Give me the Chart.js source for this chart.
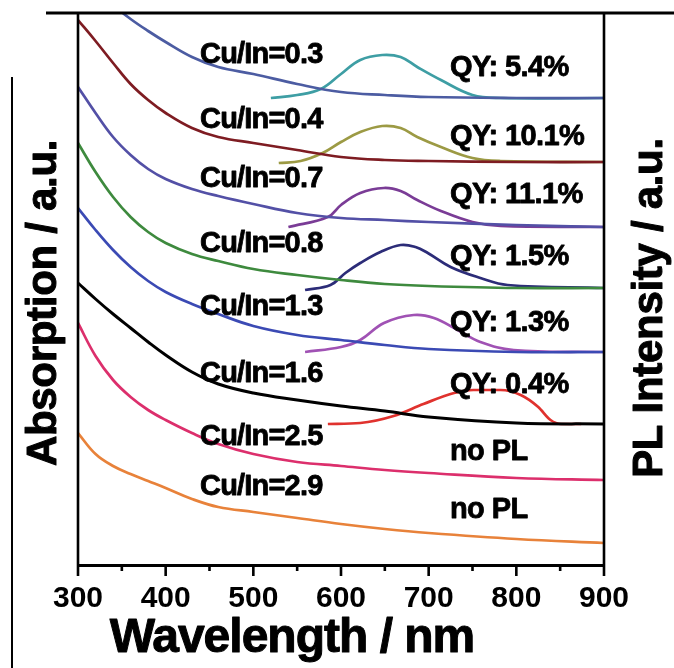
<!DOCTYPE html>
<html>
<head>
<meta charset="utf-8">
<script src="https://cdn.jsdelivr.net/npm/chart.js@4.4.0/dist/chart.umd.min.js"></script>
<style>
  html, body { margin: 0; padding: 0; background: #fff; }
  #wrap { width: 674px; height: 668px; position: relative; }
</style>
</head>
<body>
<div id="wrap"><canvas id="c" width="674" height="668"></canvas></div>
<script>
// Wavelength grid of the absorption spectra (nm)
const absWavelength = [300, 320, 340, 360, 380, 400, 430, 460, 500, 550, 600, 650, 700, 800, 900];

// Absorption spectra, stacked with a vertical offset (a.u.)
const absCu03 = [595, 577, 560, 546, 534, 523, 508, 498, 491, 481, 473, 470, 468, 467, 467];
const absCu04 = [545, 524, 502, 481, 465, 452, 437, 428, 422, 415, 408, 405, 404, 403, 403];
const absCu07 = [478, 452, 428, 410, 396, 386, 376, 369, 361, 352, 347, 345, 343, 340, 338];
const absCu08 = [422, 393, 368, 348, 333, 322, 311, 304, 296, 290, 285, 281, 279, 277, 277];
const absCu13 = [357, 335, 315, 298, 284, 273, 261, 251, 239, 230, 225, 220, 216, 213, 213];
const absCu16 = [282, 266, 251, 237, 223, 210, 193, 181, 172, 165, 159, 154, 148, 142, 141];
const absCu25 = [242, 209, 185, 168, 155, 145, 132, 121, 111, 103, 99, 95, 92, 87, 85];
const absCu29 = [132, 111, 99, 91, 84, 77, 66, 58, 53, 47, 41, 36, 32, 26, 22];

// PL spectra (nm / a.u., same offsets as the absorption traces)
const plCu03Wavelength = [520, 550, 577, 600, 622, 647, 668, 687, 714, 750, 782, 900];
const plCu03 = [467, 470, 476, 491, 505, 510, 508, 498, 485, 470, 467, 467];
const plCu04Wavelength = [529, 554, 579, 600, 622, 647, 668, 687, 714, 750, 782, 900];
const plCu04 = [402, 404, 412, 423, 433, 439, 437, 428, 418, 407, 404, 403];
const plCu07Wavelength = [540, 585, 600, 622, 649, 668, 687, 714, 750, 782, 900];
const plCu07 = [338, 348, 360, 372, 377, 374, 365, 354, 343, 339, 338];
const plCu08Wavelength = [559, 588, 605, 622, 645, 668, 685, 699, 725, 759, 790, 900];
const plCu08 = [275, 280, 292, 302, 313, 320, 318, 312, 298, 287, 280, 277];
const plCu13Wavelength = [559, 600, 622, 649, 683, 706, 733, 759, 797, 900];
const plCu13 = [213, 218, 225, 242, 250, 247, 235, 223, 215, 213];
const plCu16Wavelength = [585, 622, 660, 694, 729, 751, 782, 805, 825, 839, 851, 874];
const plCu16 = [141, 142, 149, 161, 172, 175, 175, 170, 158, 145, 141, 141];

// Sample names and quantum yields, top to bottom
const sampleLabels = ['Cu/In=0.3', 'Cu/In=0.4', 'Cu/In=0.7', 'Cu/In=0.8', 'Cu/In=1.3', 'Cu/In=1.6', 'Cu/In=2.5', 'Cu/In=2.9'];
const qyLabels = ['QY: 5.4%', 'QY: 10.1%', 'QY: 11.1%', 'QY: 1.5%', 'QY: 1.3%', 'QY: 0.4%', 'no PL', 'no PL'];

// Axis ticks (nm)
const majorTicks = [300, 400, 500, 600, 700, 800, 900];
const minorTicks = [350, 450, 550, 650, 750, 850];

const pts = (xs, ys) => xs.map((x, i) => ({ x: x, y: ys[i] }));

function series(xs, ys, color, width, monotone) {
  const ds = {
    data: pts(xs, ys),
    borderColor: color,
    borderWidth: width || 2.7,
    pointRadius: 0,
    fill: false,
    tension: 0.4,
    clip: 1
  };
  if (monotone) ds.cubicInterpolationMode = 'monotone';
  return ds;
}

const datasets = [
  series(absWavelength, absCu03, '#4c5ca2'),
  series(plCu03Wavelength, plCu03, '#3e9ea4'),
  series(absWavelength, absCu04, '#7e1c22'),
  series(plCu04Wavelength, plCu04, '#9c9a44'),
  series(absWavelength, absCu07, '#5350a6'),
  series(plCu07Wavelength, plCu07, '#7a3c96'),
  series(absWavelength, absCu08, '#3e8a3e'),
  series(plCu08Wavelength, plCu08, '#2c2c78'),
  series(absWavelength, absCu13, '#3b4ab4'),
  series(plCu13Wavelength, plCu13, '#a052b4'),
  series(absWavelength, absCu16, '#000000', 3),
  series(plCu16Wavelength, plCu16, '#e0322e', 2.7, true),
  series(absWavelength, absCu25, '#dc2f6c'),
  series(absWavelength, absCu29, '#e8823a')
];

const FONT = '"Liberation Sans", Arial, sans-serif';

// Layout of the annotation text (canvas pixels)
const textLayout = {
  sampleX: 200,
  sampleBaselines: [63, 128, 187, 252, 315, 382, 445, 495],
  qyX: 450,
  qyBaselines: [76, 145, 203, 265, 331, 393, 460, 518]
};

function putText(ctx, text, x, y, size, align, spacing, weight) {
  ctx.font = 'bold ' + size + 'px ' + FONT;
  ctx.textAlign = align;
  ctx.textBaseline = 'alphabetic';
  if ('letterSpacing' in ctx) ctx.letterSpacing = spacing || '0px';
  ctx.fillStyle = '#000';
  ctx.strokeStyle = '#000';
  ctx.lineJoin = 'round';
  ctx.lineWidth = weight || 0.8;
  ctx.fillText(text, x, y);
  ctx.strokeText(text, x, y);
  if ('letterSpacing' in ctx) ctx.letterSpacing = '0px';
}

const decor = {
  id: 'decor',
  afterDraw(chart) {
    const ctx = chart.ctx;
    const a = chart.chartArea;
    const xs = chart.scales.x;
    ctx.save();
    ctx.strokeStyle = '#000';
    ctx.lineCap = 'butt';

    // frame: top rule, left and right axes
    ctx.lineWidth = 3;
    ctx.beginPath();
    ctx.moveTo(46, a.top);
    ctx.lineTo(674, a.top);
    ctx.stroke();
    ctx.lineWidth = 2.6;
    ctx.beginPath();
    ctx.moveTo(a.left, a.top);
    ctx.lineTo(a.left, a.bottom);
    ctx.moveTo(a.right, a.top);
    ctx.lineTo(a.right, a.bottom);
    ctx.stroke();

    // outer panel edge
    ctx.lineWidth = 2;
    ctx.beginPath();
    ctx.moveTo(12, 77);
    ctx.lineTo(12, 668);
    ctx.stroke();

    // tick marks below the wavelength axis
    ctx.lineWidth = 2.6;
    ctx.beginPath();
    majorTicks.forEach(v => {
      const px = xs.getPixelForValue(v);
      ctx.moveTo(px, a.bottom);
      ctx.lineTo(px, a.bottom + 11);
    });
    minorTicks.forEach(v => {
      const px = xs.getPixelForValue(v);
      ctx.moveTo(px, a.bottom);
      ctx.lineTo(px, a.bottom + 6);
    });
    ctx.stroke();

    // sample and quantum-yield labels
    sampleLabels.forEach((t, i) => putText(ctx, t, textLayout.sampleX, textLayout.sampleBaselines[i], 29, 'left', '-0.8px'));
    qyLabels.forEach((t, i) => putText(ctx, t, textLayout.qyX, textLayout.qyBaselines[i], 29, 'left', '-0.6px'));

    // axis titles
    putText(ctx, 'Wavelength / nm', 292, 652, 48, 'center', '-1px', 1);
    ctx.save();
    ctx.translate(56, 303);
    ctx.rotate(-Math.PI / 2);
    putText(ctx, 'Absorption / a.u.', 0, 0, 42, 'center', '-0.3px', 1);
    ctx.restore();
    ctx.save();
    ctx.translate(662, 308);
    ctx.rotate(-Math.PI / 2);
    putText(ctx, 'PL Intensity / a.u.', 0, 0, 42, 'center', '-0.3px', 1);
    ctx.restore();

    ctx.restore();
  }
};

new Chart(document.getElementById('c'), {
  type: 'line',
  data: { datasets: datasets },
  options: {
    responsive: false,
    animation: false,
    events: [],
    layout: { padding: { left: 78, right: 70, top: 13, bottom: 0 } },
    plugins: { legend: { display: false }, tooltip: { enabled: false } },
    scales: {
      x: {
        type: 'linear',
        min: 300,
        max: 900,
        afterFit(scale) { scale.height = 103; },
        grid: { display: false, drawTicks: false },
        border: { display: true, color: '#000', width: 3 },
        ticks: {
          stepSize: 100,
          padding: 16,
          color: '#000',
          font: { family: FONT, size: 30, weight: 'bold' }
        }
      },
      y: {
        display: false,
        min: 0,
        max: 552
      }
    }
  },
  plugins: [decor]
});
</script>
</body>
</html>
